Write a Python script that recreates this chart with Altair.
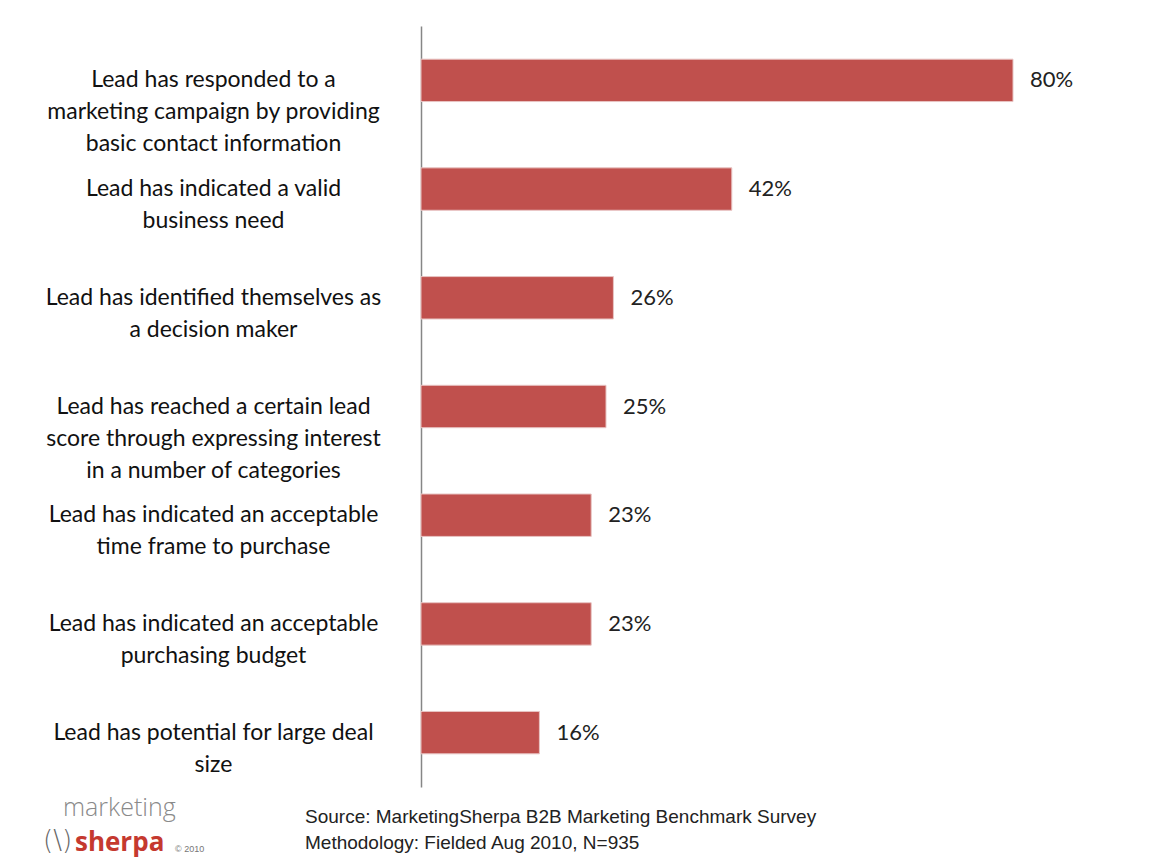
import altair as alt
import pandas as pd

categories = [
    "Lead has responded to a|marketing campaign  by providing|basic contact information",
    "Lead has indicated  a valid|business need",
    "Lead has identified themselves as|a decision maker",
    "Lead has reached a certain lead|score through expressing interest|in a number of  categories",
    "Lead has indicated  an acceptable|time frame to purchase",
    "Lead has indicated  an acceptable|purchasing budget",
    "Lead has potential for large deal|size",
]
values = [80, 42, 26, 25, 23, 23, 16]
value_labels = ["80%", "42%", "26%", "25%", "23%", "23%", "16%"]

source_lines = [
    "Source: MarketingSherpa B2B Marketing Benchmark Survey",
    "Methodology: Fielded Aug 2010, N=935",
]
logo_words = ["marketing", "sherpa", "(\\)", "\u00a9 2010"]

df = pd.DataFrame({"cat": categories, "val": values, "lbl": value_labels})

FONT = "Lato"

y_enc = alt.Y(
    "cat:N",
    sort=categories,
    title=None,
    scale=alt.Scale(paddingInner=0.61, paddingOuter=0.305),
    axis=alt.Axis(
        labelExpr="split(datum.label, '|')",
        labelAlign="center",
        labelBaseline="middle",
        labelPadding=208,
        labelLineHeight=32,
        labelFontSize=23,
        labelFont=FONT,
        labelColor="#111111",
        labelLimit=0,
        ticks=False,
        domainColor="#868686",
        domainWidth=1.5,
        grid=False,
    ),
)
x_enc = alt.X("val:Q", scale=alt.Scale(domain=[0, 90]), axis=None)

bars = alt.Chart(df).mark_bar(
    color="#C0504D", stroke="#E8C4C3", strokeWidth=1
).encode(x=x_enc, y=y_enc)

texts = alt.Chart(df).mark_text(
    align="left", baseline="middle", dx=17, fontSize=22, font=FONT, color="#222222"
).encode(x=x_enc, y=alt.Y("cat:N", sort=categories), text="lbl:N")


def fixed_text(word, x, y, **kw):
    return alt.Chart(pd.DataFrame({"w": [word]})).mark_text(
        align="left", baseline="middle", **kw
    ).encode(x=alt.value(x), y=alt.value(y), text="w:N")


src1 = fixed_text(source_lines[0], -116, 791, fontSize=19, font="Liberation Sans", color="#222222")
src2 = fixed_text(source_lines[1], -116, 817, fontSize=19, font="Liberation Sans", color="#222222")
mk = fixed_text(logo_words[0], -358, 782, fontSize=25, font="Open Sans", color="#8a8a8a", fontWeight=300)
sh = fixed_text(logo_words[1], -346, 817, fontSize=26, font="Open Sans", color="#C5392F", fontWeight="bold")
sw = fixed_text(logo_words[2], -378, 815, fontSize=26, font="DejaVu Sans", color="#666666", fontWeight=300)
cp = fixed_text(logo_words[3], -246, 823, fontSize=9, font="Liberation Sans", color="#777777")

chart = (
    alt.layer(bars, texts, src1, src2, mk, sh, sw, cp)
    .properties(
        width=666,
        height=761,
        background="white",
        padding={"left": 413, "top": 18, "right": 30, "bottom": 82},
        autosize=alt.AutoSizeParams(type="none"),
    )
    .configure_view(strokeWidth=0, stroke="transparent")
)

chart.save("out.html", embed_options={"renderer": "svg", "actions": False})
